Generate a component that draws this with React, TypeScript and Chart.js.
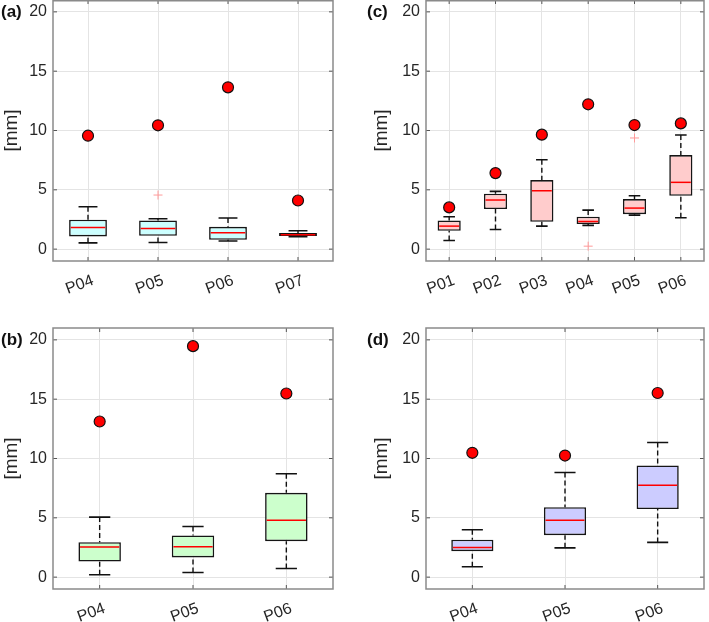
import React, { useEffect, useRef } from 'react';
import { Chart, registerables } from 'chart.js';
Chart.register(...registerables);

// ---------- data ----------
const yTickValues = [0, 5, 10, 15, 20];

// panel (a)
const catsA = ['P04', 'P05', 'P06', 'P07'];
const lowA = [0.53, 0.56, 0.68, 1.04];
const q1A = [1.07, 1.13, 0.79, 1.1];
const medA = [1.83, 1.74, 1.38, 1.21];
const q3A = [2.48, 2.42, 1.88, 1.35];
const highA = [3.57, 2.56, 2.62, 1.55];
const outA = [null, 4.56, null, null];
const dotA = [9.56, 10.44, 13.64, 4.1];

// panel (c)
const catsC = ['P01', 'P02', 'P03', 'P04', 'P05', 'P06'];
const lowC = [0.73, 1.66, 1.94, 2.0, 2.87, 2.64];
const q1C = [1.55, 3.38, 2.31, 2.11, 2.95, 4.5];
const medC = [1.94, 4.14, 4.92, 2.33, 3.46, 5.63];
const q3C = [2.42, 4.67, 5.82, 2.73, 4.22, 7.93];
const highC = [2.73, 4.87, 7.54, 3.29, 4.5, 9.62];
const outC = [null, null, null, 0.25, 9.37, null];
const dotC = [3.52, 6.41, 9.65, 12.21, 10.46, 10.6];

// panel (b)
const catsB = ['P04', 'P05', 'P06'];
const lowB = [0.2, 0.39, 0.73];
const q1B = [1.32, 1.66, 3.03];
const medB = [2.53, 2.56, 4.8];
const q3B = [2.95, 3.51, 7.11];
const highB = [5.06, 4.27, 8.71];
const outB = [null, null, null];
const dotB = [13.12, 19.47, 15.48];

// panel (d)
const catsD = ['P04', 'P05', 'P06'];
const lowD = [0.87, 2.47, 2.93];
const q1D = [2.19, 3.54, 5.74];
const medD = [2.5, 4.8, 7.75];
const q3D = [3.15, 5.9, 9.41];
const highD = [3.99, 8.82, 11.35];
const outD = [null, null, null];
const dotD = [10.48, 10.25, 15.52];

const FONT = '"Liberation Sans", Arial, Helvetica, sans-serif';
const TEXT = '#262626';

const boxPlugin = {
  id: 'boxExtras',
  beforeDatasetsDraw(chart: any, _args: any, opts: any) {
    const { ctx } = chart;
    const x = chart.scales.x;
    const y = chart.scales.y;
    const meta = chart.getDatasetMeta(0);
    ctx.save();
    ctx.strokeStyle = '#111';
    opts.low.forEach((lo: number, i: number) => {
      const bar = meta.data[i];
      const cx = x.getPixelForValue(i);
      const half = bar.width / 4;
      const yHi = y.getPixelForValue(opts.high[i]);
      const yLo = y.getPixelForValue(lo);
      const yQ3 = y.getPixelForValue(opts.q3[i]);
      const yQ1 = y.getPixelForValue(opts.q1[i]);
      ctx.lineWidth = 1.4;
      ctx.setLineDash([5, 3]);
      ctx.beginPath();
      ctx.moveTo(cx, yHi);
      ctx.lineTo(cx, yQ3);
      ctx.moveTo(cx, yLo);
      ctx.lineTo(cx, yQ1);
      ctx.stroke();
      ctx.setLineDash([]);
      ctx.lineWidth = 1.6;
      ctx.beginPath();
      ctx.moveTo(cx - half, yHi);
      ctx.lineTo(cx + half, yHi);
      ctx.moveTo(cx - half, yLo);
      ctx.lineTo(cx + half, yLo);
      ctx.stroke();
    });
    ctx.restore();
  },
  afterDatasetDraw(chart: any, args: any, opts: any) {
    if (args.index !== 0) return;
    const { ctx } = chart;
    const y = chart.scales.y;
    const meta = chart.getDatasetMeta(0);
    ctx.save();
    ctx.strokeStyle = '#ff0000';
    ctx.lineWidth = 1.5;
    opts.med.forEach((m: number, i: number) => {
      const bar = meta.data[i];
      const ym = y.getPixelForValue(m);
      ctx.beginPath();
      ctx.moveTo(bar.x - bar.width / 2 + 1.6, ym);
      ctx.lineTo(bar.x + bar.width / 2 - 1.6, ym);
      ctx.stroke();
    });
    ctx.restore();
  },
  afterDraw(chart: any) {
    const { ctx, chartArea } = chart;
    const x = chart.scales.x;
    const y = chart.scales.y;
    const { left, right, top, bottom } = chartArea;
    ctx.save();
    ctx.strokeStyle = '#555';
    ctx.lineWidth = 1;
    ctx.beginPath();
    y.ticks.forEach((t: any) => {
      const py = y.getPixelForValue(t.value);
      ctx.moveTo(left, py);
      ctx.lineTo(left + 4, py);
      ctx.moveTo(right, py);
      ctx.lineTo(right - 4, py);
    });
    x.ticks.forEach((_t: any, i: number) => {
      const px = x.getPixelForValue(i);
      ctx.moveTo(px, bottom);
      ctx.lineTo(px, bottom - 4);
      ctx.moveTo(px, top);
      ctx.lineTo(px, top + 4);
    });
    ctx.stroke();
    ctx.strokeStyle = '#8a8a8a';
    ctx.lineWidth = 1.5;
    ctx.strokeRect(left, Math.max(top, 0.75), right - left, bottom - Math.max(top, 0.75));
    ctx.restore();
  },
};

type PanelProps = {
  left: number;
  top: number;
  width: number;
  height: number;
  padLeft: number;
  padRight: number;
  padTop: number;
  yAxisWidth: number;
  xAxisHeight: number;
  cats: string[];
  low: number[];
  q1: number[];
  med: number[];
  q3: number[];
  high: number[];
  out: (number | null)[];
  dots: number[];
  fill: string;
  barPct: number;
  label: string;
  labelLeft: number;
  labelTop: number;
};

function Panel(p: PanelProps) {
  const ref = useRef<HTMLCanvasElement>(null);
  useEffect(() => {
    if (!ref.current) return;
    const chart = new Chart(ref.current, {
      type: 'bar',
      data: {
        labels: p.cats,
        datasets: [
          {
            type: 'bar',
            data: p.q1.map((v, i) => [v, p.q3[i]]) as any,
            backgroundColor: p.fill,
            borderColor: '#151515',
            borderWidth: 1.6,
            borderSkipped: false,
            barPercentage: p.barPct,
            categoryPercentage: 1,
            order: 3,
          } as any,
          {
            type: 'line',
            data: p.out as any,
            showLine: false,
            pointStyle: 'cross',
            pointRadius: 4.5,
            borderColor: '#ff9a9a',
            borderWidth: 1,
            order: 2,
          } as any,
          {
            type: 'line',
            data: p.dots as any,
            showLine: false,
            pointStyle: 'circle',
            pointRadius: 5.5,
            backgroundColor: '#ff0000',
            borderColor: '#111',
            borderWidth: 1.2,
            order: 1,
          } as any,
        ],
      },
      options: {
        animation: false,
        responsive: false,
        devicePixelRatio: 1,
        layout: { autoPadding: false, padding: { left: p.padLeft, right: p.padRight, top: p.padTop, bottom: 0 } },
        plugins: {
          legend: { display: false },
          tooltip: { enabled: false },
          boxExtras: { low: p.low, q1: p.q1, med: p.med, q3: p.q3, high: p.high },
        } as any,
        scales: {
          x: {
            type: 'category',
            offset: true,
            grid: { offset: false, color: '#e4e4e4', drawTicks: false, lineWidth: 1 },
            border: { display: false },
            ticks: {
              minRotation: 20,
              maxRotation: 20,
              padding: 10,
              labelOffset: 5,
              color: TEXT,
              font: { family: FONT, size: 16 },
            },
            afterFit: (s: any) => {
              s.height = p.xAxisHeight;
              s.paddingLeft = 0;
              s.paddingRight = 0;
            },
          },
          y: {
            type: 'linear',
            min: -1,
            max: 21,
            afterBuildTicks: (s: any) => {
              s.ticks = yTickValues.map((v) => ({ value: v }));
            },
            grid: { color: '#e4e4e4', drawTicks: false, lineWidth: 1 },
            border: { display: false },
            ticks: { padding: 6, color: TEXT, font: { family: FONT, size: 16 } },
            title: {
              display: true,
              text: '[mm]',
              color: TEXT,
              font: { family: FONT, size: 19 },
              padding: { top: 0, bottom: 0 },
            },
            afterFit: (s: any) => {
              s.width = p.yAxisWidth;
              s.paddingTop = 0;
              s.paddingBottom = 0;
            },
          },
        },
      } as any,
      plugins: [boxPlugin as any],
    });
    return () => chart.destroy();
  }, []);
  return (
    <>
      <canvas
        ref={ref}
        width={p.width}
        height={p.height}
        style={{ position: 'absolute', left: p.left, top: p.top, width: p.width, height: p.height }}
      />
      <div
        style={{
          position: 'absolute',
          left: p.labelLeft,
          top: p.labelTop,
          font: `bold 17px ${FONT}`,
          color: '#111',
          lineHeight: '20px',
        }}
      >
        {p.label}
      </div>
    </>
  );
}

export default function App() {
  return (
    <div style={{ position: 'absolute', left: 0, top: 0, width: 709, height: 622, background: '#fff', overflow: 'hidden' }}>
      <Panel
        left={0} top={0} width={350} height={300}
        padLeft={0} padRight={17} padTop={0}
        yAxisWidth={53} xAxisHeight={39}
        cats={catsA} low={lowA} q1={q1A} med={medA} q3={q3A} high={highA} out={outA} dots={dotA}
        fill="#ccffff" barPct={0.54}
        label="(a)" labelLeft={1} labelTop={2}
      />
      <Panel
        left={350} top={0} width={359} height={300}
        padLeft={20} padRight={5} padTop={0}
        yAxisWidth={56} xAxisHeight={39}
        cats={catsC} low={lowC} q1={q1C} med={medC} q3={q3C} high={highC} out={outC} dots={dotC}
        fill="#ffcccc" barPct={0.5}
        label="(c)" labelLeft={367} labelTop={2}
      />
      <Panel
        left={0} top={300} width={350} height={322}
        padLeft={0} padRight={17} padTop={28}
        yAxisWidth={53} xAxisHeight={33}
        cats={catsB} low={lowB} q1={q1B} med={medB} q3={q3B} high={highB} out={outB} dots={dotB}
        fill="#ccffcc" barPct={0.455}
        label="(b)" labelLeft={1} labelTop={330}
      />
      <Panel
        left={350} top={300} width={359} height={322}
        padLeft={20} padRight={5} padTop={28}
        yAxisWidth={56} xAxisHeight={33}
        cats={catsD} low={lowD} q1={q1D} med={medD} q3={q3D} high={highD} out={outD} dots={dotD}
        fill="#ccccff" barPct={0.455}
        label="(d)" labelLeft={367} labelTop={330}
      />
    </div>
  );
}
